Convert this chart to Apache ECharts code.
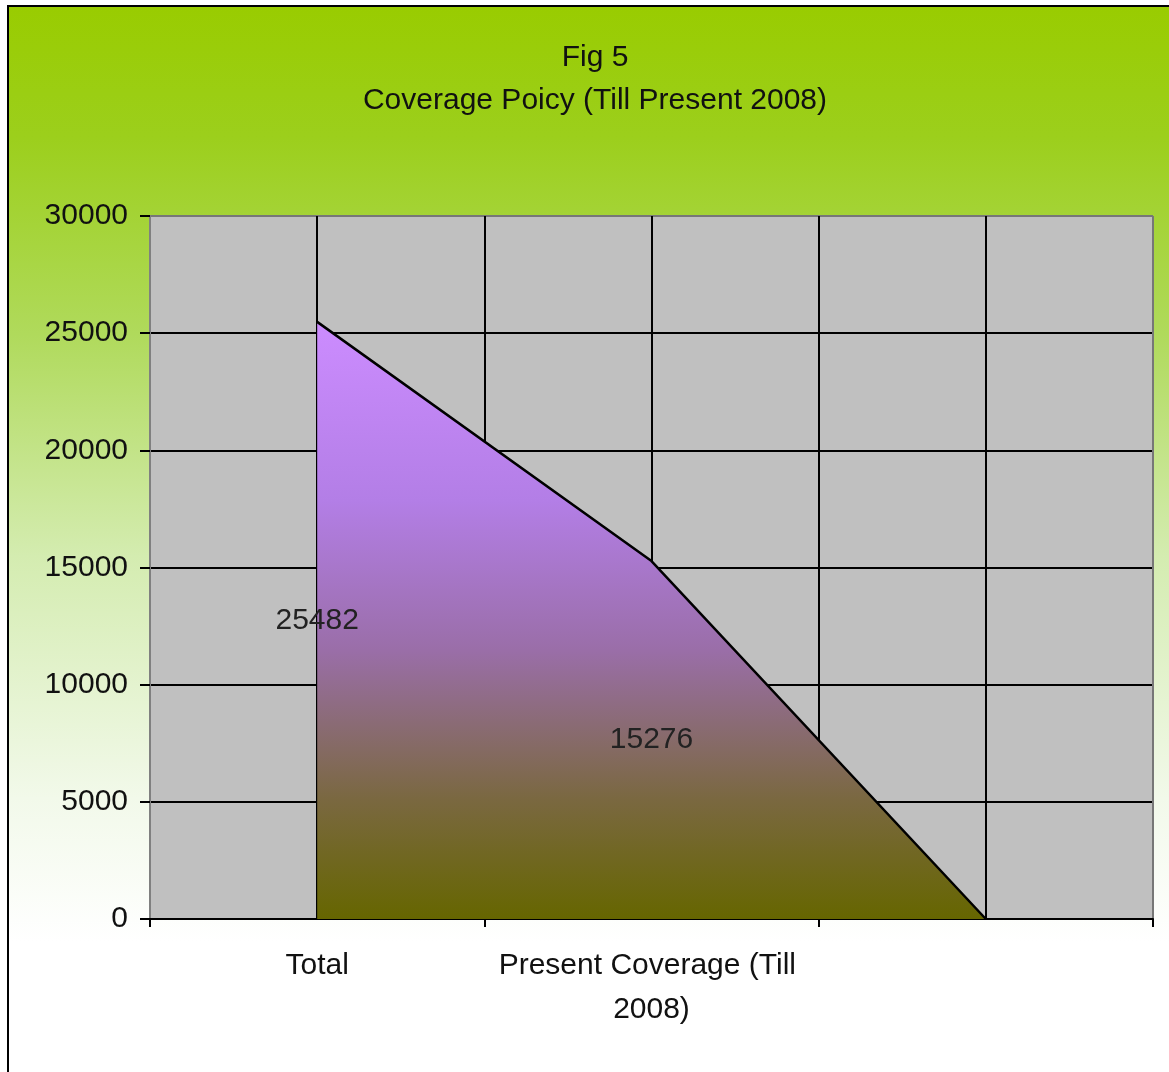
<!DOCTYPE html>
<html>
<head>
<meta charset="utf-8">
<style>
html,body{margin:0;padding:0;background:#fff;}
#chart{width:1169px;height:1072px;}
</style>
<script src="https://cdn.jsdelivr.net/npm/echarts@6/dist/echarts.min.js"></script>
</head>
<body>
<div id="chart"></div>
<script>
var categories = ['Total', 'Present Coverage (Till 2008)', ''];
var coverageValues = [25482, 15276, 0];
var labelValues = [25482, 15276, null];
var titleText = 'Fig 5';
var subtitleText = 'Coverage Poicy (Till Present 2008)';

var chart = echarts.init(document.getElementById('chart'));
var FONT = '"Liberation Sans", Arial, sans-serif';
var FS = 30;

chart.setOption({
  backgroundColor: '#ffffff',
  animation: false,
  graphic: [{
    type: 'rect',
    z: -10,
    silent: true,
    shape: {x: 8, y: 6, width: 1200, height: 1100},
    style: {
      stroke: '#000',
      lineWidth: 2,
      fill: new echarts.graphic.LinearGradient(0, 0, 0, 1, [
        {offset: 0, color: '#99cc00'},
        {offset: 0.12, color: '#9ccf1c'},
        {offset: 0.3, color: '#b0da5c'},
        {offset: 0.5, color: '#d4ecb0'},
        {offset: 0.72, color: '#f2f9ea'},
        {offset: 0.85, color: '#ffffff'},
        {offset: 1, color: '#ffffff'}
      ])
    }
  }],
  title: {
    text: titleText + '\n' + subtitleText,
    left: 590,
    textAlign: 'center',
    top: 31,
    textStyle: {fontFamily: FONT, fontSize: FS, fontWeight: 'normal', color: '#111', lineHeight: 43}
  },
  grid: {left: 150, right: 16, top: 216, bottom: 153, show: true, backgroundColor: '#c0c0c0', borderWidth: 0},
  xAxis: [{
    type: 'category',
    data: categories,
    boundaryGap: true,
    axisLine: {lineStyle: {color: '#000', width: 2}},
    axisTick: {show: true, length: 8, lineStyle: {color: '#000', width: 2}},
    axisLabel: {
      fontFamily: FONT, fontSize: FS, color: '#111', margin: 25, lineHeight: 44,
      width: 330, overflow: 'break', interval: 0
    },
    splitLine: {show: false}
  }, {
    type: 'value',
    min: 0, max: 6, interval: 1,
    position: 'top',
    axisLine: {show: false},
    axisTick: {show: false},
    axisLabel: {show: false},
    splitLine: {show: true, lineStyle: {color: ['#777', '#000', '#000', '#000', '#000', '#000', '#777'], width: 2}}
  }],
  yAxis: {
    type: 'value',
    min: 0, max: 30000, interval: 5000,
    axisLine: {show: true, lineStyle: {color: '#808080', width: 2}},
    axisTick: {show: true, length: 10, lineStyle: {color: '#000', width: 2}},
    axisLabel: {fontFamily: FONT, fontSize: FS, color: '#111', margin: 22, formatter: function (v) { return String(v); }},
    splitLine: {show: true, lineStyle: {color: ['#000', '#000', '#000', '#000', '#000', '#000', '#777'], width: 2}}
  },
  series: [{
    type: 'line',
    data: coverageValues,
    xAxisIndex: 0,
    symbol: 'none',
    lineStyle: {color: '#000', width: 2.5},
    areaStyle: {
      opacity: 1,
      color: new echarts.graphic.LinearGradient(0, 0, 0, 1, [
        {offset: 0, color: '#cc8cff'},
        {offset: 0.3, color: '#b37ee6'},
        {offset: 0.55, color: '#9a6ea8'},
        {offset: 0.8, color: '#7a6840'},
        {offset: 1, color: '#666600'}
      ])
    },
    z: 3
  }, {
    type: 'bar',
    data: labelValues,
    xAxisIndex: 0,
    barWidth: 2,
    itemStyle: {color: 'rgba(0,0,0,0)'},
    label: {show: true, position: 'inside', fontFamily: FONT, fontSize: FS, color: '#222'},
    z: 4
  }]
});
</script>
</body>
</html>
